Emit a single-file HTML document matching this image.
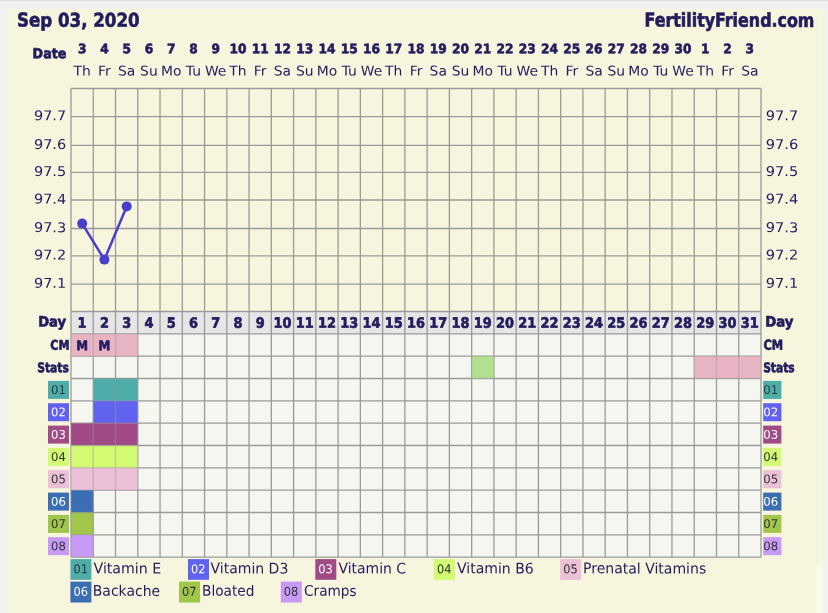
<!DOCTYPE html><html><head><meta charset="utf-8"><title>FertilityFriend.com chart</title>
<style>html,body{margin:0;padding:0;background:#f1f1f1;overflow:hidden}svg{display:block}text{font-family:"DejaVu Sans","Liberation Sans",sans-serif;fill:#211c5c;text-rendering:geometricPrecision}.b{font-family:"DejaVu Sans Condensed","DejaVu Sans","Liberation Sans",sans-serif;font-weight:bold;stroke:#211c5c;stroke-width:0.6px}</style></head><body>
<svg width="828" height="613" viewBox="0 0 828 613">
<rect x="0" y="0" width="828" height="613" fill="#f1f1f1"/>
<rect x="0" y="0" width="828" height="1" fill="#dedede"/>
<rect x="8.5" y="9" width="814.9" height="604" fill="#f7f5de"/>
<rect x="816" y="565" width="6.1" height="60" rx="3" fill="#fbf9ea"/>
<text class="b" transform="translate(17.00 26.60) matrix(1 .002 0 1.000 0 0)" font-size="19.2" textLength="122.6" lengthAdjust="spacingAndGlyphs">Sep 03, 2020</text>
<text class="b" transform="translate(644.50 26.60) matrix(1 .002 0 1.000 0 0)" font-size="19.2" textLength="169.9" lengthAdjust="spacingAndGlyphs">FertilityFriend.com</text>
<text class="b" transform="translate(32.60 58.20) matrix(1 .002 0 1.000 0 0)" font-size="13.9" textLength="33.8" lengthAdjust="spacingAndGlyphs">Date</text>
<text class="b" transform="translate(77.88 53.25) matrix(1 .002 0 0.950 0 0)" font-size="13.8" textLength="8.5" lengthAdjust="spacingAndGlyphs">3</text>
<text transform="translate(82.13 75.50) matrix(1 .002 0 0.970 0 0)" font-size="13.9" text-anchor="middle">Th</text>
<text class="b" transform="translate(100.14 53.25) matrix(1 .002 0 0.950 0 0)" font-size="13.8" textLength="8.5" lengthAdjust="spacingAndGlyphs">4</text>
<text transform="translate(104.39 75.50) matrix(1 .002 0 0.970 0 0)" font-size="13.9" text-anchor="middle">Fr</text>
<text class="b" transform="translate(122.40 53.25) matrix(1 .002 0 0.950 0 0)" font-size="13.8" textLength="8.5" lengthAdjust="spacingAndGlyphs">5</text>
<text transform="translate(126.65 75.50) matrix(1 .002 0 0.970 0 0)" font-size="13.9" text-anchor="middle">Sa</text>
<text class="b" transform="translate(144.65 53.25) matrix(1 .002 0 0.950 0 0)" font-size="13.8" textLength="8.5" lengthAdjust="spacingAndGlyphs">6</text>
<text transform="translate(148.90 75.50) matrix(1 .002 0 0.970 0 0)" font-size="13.9" text-anchor="middle">Su</text>
<text class="b" transform="translate(166.91 53.25) matrix(1 .002 0 0.950 0 0)" font-size="13.8" textLength="8.5" lengthAdjust="spacingAndGlyphs">7</text>
<text transform="translate(171.16 75.50) matrix(1 .002 0 0.970 0 0)" font-size="13.9" text-anchor="middle">Mo</text>
<text class="b" transform="translate(189.17 53.25) matrix(1 .002 0 0.950 0 0)" font-size="13.8" textLength="8.5" lengthAdjust="spacingAndGlyphs">8</text>
<text transform="translate(193.42 75.50) matrix(1 .002 0 0.970 0 0)" font-size="13.9" text-anchor="middle">Tu</text>
<text class="b" transform="translate(211.43 53.25) matrix(1 .002 0 0.950 0 0)" font-size="13.8" textLength="8.5" lengthAdjust="spacingAndGlyphs">9</text>
<text transform="translate(215.68 75.50) matrix(1 .002 0 0.970 0 0)" font-size="13.9" text-anchor="middle">We</text>
<text class="b" transform="translate(229.44 53.25) matrix(1 .002 0 0.950 0 0)" font-size="13.8" textLength="17.0" lengthAdjust="spacingAndGlyphs">10</text>
<text transform="translate(237.94 75.50) matrix(1 .002 0 0.970 0 0)" font-size="13.9" text-anchor="middle">Th</text>
<text class="b" transform="translate(251.69 53.25) matrix(1 .002 0 0.950 0 0)" font-size="13.8" textLength="17.0" lengthAdjust="spacingAndGlyphs">11</text>
<text transform="translate(260.19 75.50) matrix(1 .002 0 0.970 0 0)" font-size="13.9" text-anchor="middle">Fr</text>
<text class="b" transform="translate(273.95 53.25) matrix(1 .002 0 0.950 0 0)" font-size="13.8" textLength="17.0" lengthAdjust="spacingAndGlyphs">12</text>
<text transform="translate(282.45 75.50) matrix(1 .002 0 0.970 0 0)" font-size="13.9" text-anchor="middle">Sa</text>
<text class="b" transform="translate(296.21 53.25) matrix(1 .002 0 0.950 0 0)" font-size="13.8" textLength="17.0" lengthAdjust="spacingAndGlyphs">13</text>
<text transform="translate(304.71 75.50) matrix(1 .002 0 0.970 0 0)" font-size="13.9" text-anchor="middle">Su</text>
<text class="b" transform="translate(318.47 53.25) matrix(1 .002 0 0.950 0 0)" font-size="13.8" textLength="17.0" lengthAdjust="spacingAndGlyphs">14</text>
<text transform="translate(326.97 75.50) matrix(1 .002 0 0.970 0 0)" font-size="13.9" text-anchor="middle">Mo</text>
<text class="b" transform="translate(340.73 53.25) matrix(1 .002 0 0.950 0 0)" font-size="13.8" textLength="17.0" lengthAdjust="spacingAndGlyphs">15</text>
<text transform="translate(349.23 75.50) matrix(1 .002 0 0.970 0 0)" font-size="13.9" text-anchor="middle">Tu</text>
<text class="b" transform="translate(362.98 53.25) matrix(1 .002 0 0.950 0 0)" font-size="13.8" textLength="17.0" lengthAdjust="spacingAndGlyphs">16</text>
<text transform="translate(371.48 75.50) matrix(1 .002 0 0.970 0 0)" font-size="13.9" text-anchor="middle">We</text>
<text class="b" transform="translate(385.24 53.25) matrix(1 .002 0 0.950 0 0)" font-size="13.8" textLength="17.0" lengthAdjust="spacingAndGlyphs">17</text>
<text transform="translate(393.74 75.50) matrix(1 .002 0 0.970 0 0)" font-size="13.9" text-anchor="middle">Th</text>
<text class="b" transform="translate(407.50 53.25) matrix(1 .002 0 0.950 0 0)" font-size="13.8" textLength="17.0" lengthAdjust="spacingAndGlyphs">18</text>
<text transform="translate(416.00 75.50) matrix(1 .002 0 0.970 0 0)" font-size="13.9" text-anchor="middle">Fr</text>
<text class="b" transform="translate(429.76 53.25) matrix(1 .002 0 0.950 0 0)" font-size="13.8" textLength="17.0" lengthAdjust="spacingAndGlyphs">19</text>
<text transform="translate(438.26 75.50) matrix(1 .002 0 0.970 0 0)" font-size="13.9" text-anchor="middle">Sa</text>
<text class="b" transform="translate(452.02 53.25) matrix(1 .002 0 0.950 0 0)" font-size="13.8" textLength="17.0" lengthAdjust="spacingAndGlyphs">20</text>
<text transform="translate(460.52 75.50) matrix(1 .002 0 0.970 0 0)" font-size="13.9" text-anchor="middle">Su</text>
<text class="b" transform="translate(474.27 53.25) matrix(1 .002 0 0.950 0 0)" font-size="13.8" textLength="17.0" lengthAdjust="spacingAndGlyphs">21</text>
<text transform="translate(482.77 75.50) matrix(1 .002 0 0.970 0 0)" font-size="13.9" text-anchor="middle">Mo</text>
<text class="b" transform="translate(496.53 53.25) matrix(1 .002 0 0.950 0 0)" font-size="13.8" textLength="17.0" lengthAdjust="spacingAndGlyphs">22</text>
<text transform="translate(505.03 75.50) matrix(1 .002 0 0.970 0 0)" font-size="13.9" text-anchor="middle">Tu</text>
<text class="b" transform="translate(518.79 53.25) matrix(1 .002 0 0.950 0 0)" font-size="13.8" textLength="17.0" lengthAdjust="spacingAndGlyphs">23</text>
<text transform="translate(527.29 75.50) matrix(1 .002 0 0.970 0 0)" font-size="13.9" text-anchor="middle">We</text>
<text class="b" transform="translate(541.05 53.25) matrix(1 .002 0 0.950 0 0)" font-size="13.8" textLength="17.0" lengthAdjust="spacingAndGlyphs">24</text>
<text transform="translate(549.55 75.50) matrix(1 .002 0 0.970 0 0)" font-size="13.9" text-anchor="middle">Th</text>
<text class="b" transform="translate(563.31 53.25) matrix(1 .002 0 0.950 0 0)" font-size="13.8" textLength="17.0" lengthAdjust="spacingAndGlyphs">25</text>
<text transform="translate(571.81 75.50) matrix(1 .002 0 0.970 0 0)" font-size="13.9" text-anchor="middle">Fr</text>
<text class="b" transform="translate(585.56 53.25) matrix(1 .002 0 0.950 0 0)" font-size="13.8" textLength="17.0" lengthAdjust="spacingAndGlyphs">26</text>
<text transform="translate(594.06 75.50) matrix(1 .002 0 0.970 0 0)" font-size="13.9" text-anchor="middle">Sa</text>
<text class="b" transform="translate(607.82 53.25) matrix(1 .002 0 0.950 0 0)" font-size="13.8" textLength="17.0" lengthAdjust="spacingAndGlyphs">27</text>
<text transform="translate(616.32 75.50) matrix(1 .002 0 0.970 0 0)" font-size="13.9" text-anchor="middle">Su</text>
<text class="b" transform="translate(630.08 53.25) matrix(1 .002 0 0.950 0 0)" font-size="13.8" textLength="17.0" lengthAdjust="spacingAndGlyphs">28</text>
<text transform="translate(638.58 75.50) matrix(1 .002 0 0.970 0 0)" font-size="13.9" text-anchor="middle">Mo</text>
<text class="b" transform="translate(652.34 53.25) matrix(1 .002 0 0.950 0 0)" font-size="13.8" textLength="17.0" lengthAdjust="spacingAndGlyphs">29</text>
<text transform="translate(660.84 75.50) matrix(1 .002 0 0.970 0 0)" font-size="13.9" text-anchor="middle">Tu</text>
<text class="b" transform="translate(674.60 53.25) matrix(1 .002 0 0.950 0 0)" font-size="13.8" textLength="17.0" lengthAdjust="spacingAndGlyphs">30</text>
<text transform="translate(683.10 75.50) matrix(1 .002 0 0.970 0 0)" font-size="13.9" text-anchor="middle">We</text>
<text class="b" transform="translate(701.10 53.25) matrix(1 .002 0 0.950 0 0)" font-size="13.8" textLength="8.5" lengthAdjust="spacingAndGlyphs">1</text>
<text transform="translate(705.35 75.50) matrix(1 .002 0 0.970 0 0)" font-size="13.9" text-anchor="middle">Th</text>
<text class="b" transform="translate(723.36 53.25) matrix(1 .002 0 0.950 0 0)" font-size="13.8" textLength="8.5" lengthAdjust="spacingAndGlyphs">2</text>
<text transform="translate(727.61 75.50) matrix(1 .002 0 0.970 0 0)" font-size="13.9" text-anchor="middle">Fr</text>
<text class="b" transform="translate(745.62 53.25) matrix(1 .002 0 0.950 0 0)" font-size="13.8" textLength="8.5" lengthAdjust="spacingAndGlyphs">3</text>
<text transform="translate(749.87 75.50) matrix(1 .002 0 0.970 0 0)" font-size="13.9" text-anchor="middle">Sa</text>
<text transform="translate(33.90 120.30) matrix(1 .002 0 0.950 0 0)" font-size="14.2" textLength="32.3" lengthAdjust="spacingAndGlyphs">97.7</text>
<text transform="translate(765.70 120.30) matrix(1 .002 0 0.950 0 0)" font-size="14.2" textLength="32.5" lengthAdjust="spacingAndGlyphs">97.7</text>
<text transform="translate(33.90 149.00) matrix(1 .002 0 0.950 0 0)" font-size="14.2" textLength="32.3" lengthAdjust="spacingAndGlyphs">97.6</text>
<text transform="translate(765.70 149.00) matrix(1 .002 0 0.950 0 0)" font-size="14.2" textLength="32.5" lengthAdjust="spacingAndGlyphs">97.6</text>
<text transform="translate(33.90 175.90) matrix(1 .002 0 0.950 0 0)" font-size="14.2" textLength="32.3" lengthAdjust="spacingAndGlyphs">97.5</text>
<text transform="translate(765.70 175.90) matrix(1 .002 0 0.950 0 0)" font-size="14.2" textLength="32.5" lengthAdjust="spacingAndGlyphs">97.5</text>
<text transform="translate(33.90 203.60) matrix(1 .002 0 0.950 0 0)" font-size="14.2" textLength="32.3" lengthAdjust="spacingAndGlyphs">97.4</text>
<text transform="translate(765.70 203.60) matrix(1 .002 0 0.950 0 0)" font-size="14.2" textLength="32.5" lengthAdjust="spacingAndGlyphs">97.4</text>
<text transform="translate(33.90 232.10) matrix(1 .002 0 0.950 0 0)" font-size="14.2" textLength="32.3" lengthAdjust="spacingAndGlyphs">97.3</text>
<text transform="translate(765.70 232.10) matrix(1 .002 0 0.950 0 0)" font-size="14.2" textLength="32.5" lengthAdjust="spacingAndGlyphs">97.3</text>
<text transform="translate(33.90 259.40) matrix(1 .002 0 0.950 0 0)" font-size="14.2" textLength="32.3" lengthAdjust="spacingAndGlyphs">97.2</text>
<text transform="translate(765.70 259.40) matrix(1 .002 0 0.950 0 0)" font-size="14.2" textLength="32.5" lengthAdjust="spacingAndGlyphs">97.2</text>
<text transform="translate(33.90 287.80) matrix(1 .002 0 0.950 0 0)" font-size="14.2" textLength="32.3" lengthAdjust="spacingAndGlyphs">97.1</text>
<text transform="translate(765.70 287.80) matrix(1 .002 0 0.950 0 0)" font-size="14.2" textLength="32.5" lengthAdjust="spacingAndGlyphs">97.1</text>
<rect x="71.0" y="311.5" width="690.0" height="22.3" fill="#e6e6e6"/>
<rect x="71.0" y="333.8" width="690.0" height="223.3" fill="#f6f6f0"/>
<rect x="71.00" y="333.83" width="66.77" height="22.33" fill="#e8b4c4"/>
<rect x="471.65" y="356.16" width="22.26" height="22.33" fill="#b0e090"/>
<rect x="694.23" y="356.16" width="66.77" height="22.33" fill="#e8b4c4"/>
<rect x="93.26" y="378.50" width="44.52" height="22.33" fill="#4eada8"/>
<rect x="93.26" y="400.83" width="44.52" height="22.33" fill="#6262f0"/>
<rect x="71.00" y="423.16" width="66.77" height="22.33" fill="#a04a86"/>
<rect x="71.00" y="445.49" width="66.77" height="22.33" fill="#d2fa72"/>
<rect x="71.00" y="467.82" width="66.77" height="22.33" fill="#ecc0d8"/>
<rect x="71.00" y="490.15" width="22.26" height="22.33" fill="#3c6eb6"/>
<rect x="71.00" y="512.49" width="22.26" height="22.33" fill="#a0c64c"/>
<rect x="71.00" y="534.82" width="22.26" height="22.33" fill="#c89af8"/>
<path d="M71.00 88.5V557.15M93.26 88.5V557.15M115.52 88.5V557.15M137.77 88.5V557.15M160.03 88.5V557.15M182.29 88.5V557.15M204.55 88.5V557.15M226.81 88.5V557.15M249.06 88.5V557.15M271.32 88.5V557.15M293.58 88.5V557.15M315.84 88.5V557.15M338.10 88.5V557.15M360.35 88.5V557.15M382.61 88.5V557.15M404.87 88.5V557.15M427.13 88.5V557.15M449.39 88.5V557.15M471.65 88.5V557.15M493.90 88.5V557.15M516.16 88.5V557.15M538.42 88.5V557.15M560.68 88.5V557.15M582.94 88.5V557.15M605.19 88.5V557.15M627.45 88.5V557.15M649.71 88.5V557.15M671.97 88.5V557.15M694.23 88.5V557.15M716.48 88.5V557.15M738.74 88.5V557.15M761.00 88.5V557.15M71.00 88.50H761.00M71.00 116.70H761.00M71.00 145.40H761.00M71.00 172.30H761.00M71.00 200.00H761.00M71.00 228.50H761.00M71.00 255.80H761.00M71.00 284.20H761.00M71.00 311.50H761.00M71.00 333.83H761.00M71.00 356.16H761.00M71.00 378.50H761.00M71.00 400.83H761.00M71.00 423.16H761.00M71.00 445.49H761.00M71.00 467.82H761.00M71.00 490.15H761.00M71.00 512.49H761.00M71.00 534.82H761.00M71.00 557.15H761.00" stroke="#9a9a9a" stroke-width="1.3" fill="none"/>
<g opacity="0.55">
<rect x="71.00" y="333.83" width="66.77" height="22.33" fill="#e8b4c4"/>
<rect x="471.65" y="356.16" width="22.26" height="22.33" fill="#b0e090"/>
<rect x="694.23" y="356.16" width="66.77" height="22.33" fill="#e8b4c4"/>
<rect x="93.26" y="378.50" width="44.52" height="22.33" fill="#4eada8"/>
<rect x="93.26" y="400.83" width="44.52" height="22.33" fill="#6262f0"/>
<rect x="71.00" y="423.16" width="66.77" height="22.33" fill="#a04a86"/>
<rect x="71.00" y="445.49" width="66.77" height="22.33" fill="#d2fa72"/>
<rect x="71.00" y="467.82" width="66.77" height="22.33" fill="#ecc0d8"/>
<rect x="71.00" y="490.15" width="22.26" height="22.33" fill="#3c6eb6"/>
<rect x="71.00" y="512.49" width="22.26" height="22.33" fill="#a0c64c"/>
<rect x="71.00" y="534.82" width="22.26" height="22.33" fill="#c89af8"/>
</g>
<polyline points="82.2,223.6 104.4,259.6 126.7,206.4" fill="none" stroke="#483ec8" stroke-width="2.5"/>
<circle cx="82.2" cy="223.6" r="5" fill="#483ec8"/>
<circle cx="104.4" cy="259.6" r="5" fill="#483ec8"/>
<circle cx="126.7" cy="206.4" r="5" fill="#483ec8"/>
<text class="b" transform="translate(38.20 326.50) matrix(1 .002 0 1.020 0 0)" font-size="14.0" textLength="27.9" lengthAdjust="spacingAndGlyphs">Day</text>
<text class="b" transform="translate(50.30 349.80) matrix(1 .002 0 0.980 0 0)" font-size="13.7" textLength="19.2" lengthAdjust="spacingAndGlyphs">CM</text>
<text class="b" transform="translate(37.20 372.20) matrix(1 .002 0 0.980 0 0)" font-size="13.7" textLength="31.7" lengthAdjust="spacingAndGlyphs">Stats</text>
<text class="b" transform="translate(765.30 326.40) matrix(1 .002 0 1.020 0 0)" font-size="14.0" textLength="28.2" lengthAdjust="spacingAndGlyphs">Day</text>
<text class="b" transform="translate(763.50 349.85) matrix(1 .002 0 1.000 0 0)" font-size="13.7" textLength="19.7" lengthAdjust="spacingAndGlyphs">CM</text>
<text class="b" transform="translate(763.15 372.20) matrix(1 .002 0 0.980 0 0)" font-size="13.7" textLength="31.5" lengthAdjust="spacingAndGlyphs">Stats</text>
<text class="b" transform="translate(77.62 327.70) matrix(1 .002 0 1.020 0 0)" font-size="14.0" textLength="9.0" lengthAdjust="spacingAndGlyphs">1</text>
<text class="b" transform="translate(99.88 327.70) matrix(1 .002 0 1.020 0 0)" font-size="14.0" textLength="9.0" lengthAdjust="spacingAndGlyphs">2</text>
<text class="b" transform="translate(122.14 327.70) matrix(1 .002 0 1.020 0 0)" font-size="14.0" textLength="9.0" lengthAdjust="spacingAndGlyphs">3</text>
<text class="b" transform="translate(144.39 327.70) matrix(1 .002 0 1.020 0 0)" font-size="14.0" textLength="9.0" lengthAdjust="spacingAndGlyphs">4</text>
<text class="b" transform="translate(166.65 327.70) matrix(1 .002 0 1.020 0 0)" font-size="14.0" textLength="9.0" lengthAdjust="spacingAndGlyphs">5</text>
<text class="b" transform="translate(188.91 327.70) matrix(1 .002 0 1.020 0 0)" font-size="14.0" textLength="9.0" lengthAdjust="spacingAndGlyphs">6</text>
<text class="b" transform="translate(211.17 327.70) matrix(1 .002 0 1.020 0 0)" font-size="14.0" textLength="9.0" lengthAdjust="spacingAndGlyphs">7</text>
<text class="b" transform="translate(233.43 327.70) matrix(1 .002 0 1.020 0 0)" font-size="14.0" textLength="9.0" lengthAdjust="spacingAndGlyphs">8</text>
<text class="b" transform="translate(255.68 327.70) matrix(1 .002 0 1.020 0 0)" font-size="14.0" textLength="9.0" lengthAdjust="spacingAndGlyphs">9</text>
<text class="b" transform="translate(273.43 327.70) matrix(1 .002 0 1.020 0 0)" font-size="14.0" textLength="18.0" lengthAdjust="spacingAndGlyphs">10</text>
<text class="b" transform="translate(295.69 327.70) matrix(1 .002 0 1.020 0 0)" font-size="14.0" textLength="18.0" lengthAdjust="spacingAndGlyphs">11</text>
<text class="b" transform="translate(317.95 327.70) matrix(1 .002 0 1.020 0 0)" font-size="14.0" textLength="18.0" lengthAdjust="spacingAndGlyphs">12</text>
<text class="b" transform="translate(340.21 327.70) matrix(1 .002 0 1.020 0 0)" font-size="14.0" textLength="18.0" lengthAdjust="spacingAndGlyphs">13</text>
<text class="b" transform="translate(362.46 327.70) matrix(1 .002 0 1.020 0 0)" font-size="14.0" textLength="18.0" lengthAdjust="spacingAndGlyphs">14</text>
<text class="b" transform="translate(384.72 327.70) matrix(1 .002 0 1.020 0 0)" font-size="14.0" textLength="18.0" lengthAdjust="spacingAndGlyphs">15</text>
<text class="b" transform="translate(406.98 327.70) matrix(1 .002 0 1.020 0 0)" font-size="14.0" textLength="18.0" lengthAdjust="spacingAndGlyphs">16</text>
<text class="b" transform="translate(429.24 327.70) matrix(1 .002 0 1.020 0 0)" font-size="14.0" textLength="18.0" lengthAdjust="spacingAndGlyphs">17</text>
<text class="b" transform="translate(451.50 327.70) matrix(1 .002 0 1.020 0 0)" font-size="14.0" textLength="18.0" lengthAdjust="spacingAndGlyphs">18</text>
<text class="b" transform="translate(473.75 327.70) matrix(1 .002 0 1.020 0 0)" font-size="14.0" textLength="18.0" lengthAdjust="spacingAndGlyphs">19</text>
<text class="b" transform="translate(496.01 327.70) matrix(1 .002 0 1.020 0 0)" font-size="14.0" textLength="18.0" lengthAdjust="spacingAndGlyphs">20</text>
<text class="b" transform="translate(518.27 327.70) matrix(1 .002 0 1.020 0 0)" font-size="14.0" textLength="18.0" lengthAdjust="spacingAndGlyphs">21</text>
<text class="b" transform="translate(540.53 327.70) matrix(1 .002 0 1.020 0 0)" font-size="14.0" textLength="18.0" lengthAdjust="spacingAndGlyphs">22</text>
<text class="b" transform="translate(562.79 327.70) matrix(1 .002 0 1.020 0 0)" font-size="14.0" textLength="18.0" lengthAdjust="spacingAndGlyphs">23</text>
<text class="b" transform="translate(585.04 327.70) matrix(1 .002 0 1.020 0 0)" font-size="14.0" textLength="18.0" lengthAdjust="spacingAndGlyphs">24</text>
<text class="b" transform="translate(607.30 327.70) matrix(1 .002 0 1.020 0 0)" font-size="14.0" textLength="18.0" lengthAdjust="spacingAndGlyphs">25</text>
<text class="b" transform="translate(629.56 327.70) matrix(1 .002 0 1.020 0 0)" font-size="14.0" textLength="18.0" lengthAdjust="spacingAndGlyphs">26</text>
<text class="b" transform="translate(651.82 327.70) matrix(1 .002 0 1.020 0 0)" font-size="14.0" textLength="18.0" lengthAdjust="spacingAndGlyphs">27</text>
<text class="b" transform="translate(674.08 327.70) matrix(1 .002 0 1.020 0 0)" font-size="14.0" textLength="18.0" lengthAdjust="spacingAndGlyphs">28</text>
<text class="b" transform="translate(696.33 327.70) matrix(1 .002 0 1.020 0 0)" font-size="14.0" textLength="18.0" lengthAdjust="spacingAndGlyphs">29</text>
<text class="b" transform="translate(718.59 327.70) matrix(1 .002 0 1.020 0 0)" font-size="14.0" textLength="18.0" lengthAdjust="spacingAndGlyphs">30</text>
<text class="b" transform="translate(740.85 327.70) matrix(1 .002 0 1.020 0 0)" font-size="14.0" textLength="18.0" lengthAdjust="spacingAndGlyphs">31</text>
<text class="b" transform="translate(76.33 350.20) matrix(1 .002 0 0.980 0 0)" font-size="13.7" textLength="11.8" lengthAdjust="spacingAndGlyphs">M</text>
<text class="b" transform="translate(98.59 350.20) matrix(1 .002 0 0.980 0 0)" font-size="13.7" textLength="11.8" lengthAdjust="spacingAndGlyphs">M</text>
<rect x="48" y="380.9" width="21" height="18" fill="#4eada8"/>
<text transform="translate(51.00 394.00) matrix(1 .002 0 0.980 0 0)" font-size="12.2" textLength="14.8" lengthAdjust="spacingAndGlyphs" style="fill:#2c3a3a">01</text>
<rect x="763.2" y="380.9" width="18.2" height="18" fill="#4eada8"/>
<text transform="translate(763.30 394.00) matrix(1 .002 0 0.980 0 0)" font-size="12.2" textLength="14.9" lengthAdjust="spacingAndGlyphs" style="fill:#2c3a3a">01</text>
<rect x="48" y="403.2" width="21" height="18" fill="#6262f0"/>
<text transform="translate(51.00 416.33) matrix(1 .002 0 0.980 0 0)" font-size="12.2" textLength="14.8" lengthAdjust="spacingAndGlyphs" style="fill:#ffffff">02</text>
<rect x="763.2" y="403.2" width="18.2" height="18" fill="#6262f0"/>
<text transform="translate(763.30 416.33) matrix(1 .002 0 0.980 0 0)" font-size="12.2" textLength="14.9" lengthAdjust="spacingAndGlyphs" style="fill:#ffffff">02</text>
<rect x="48" y="425.6" width="21" height="18" fill="#a04a86"/>
<text transform="translate(51.00 438.66) matrix(1 .002 0 0.980 0 0)" font-size="12.2" textLength="14.8" lengthAdjust="spacingAndGlyphs" style="fill:#ffffff">03</text>
<rect x="763.2" y="425.6" width="18.2" height="18" fill="#a04a86"/>
<text transform="translate(763.30 438.66) matrix(1 .002 0 0.980 0 0)" font-size="12.2" textLength="14.9" lengthAdjust="spacingAndGlyphs" style="fill:#ffffff">03</text>
<rect x="48" y="447.9" width="21" height="18" fill="#d2fa72"/>
<text transform="translate(51.00 460.99) matrix(1 .002 0 0.980 0 0)" font-size="12.2" textLength="14.8" lengthAdjust="spacingAndGlyphs" style="fill:#333333">04</text>
<rect x="763.2" y="447.9" width="18.2" height="18" fill="#d2fa72"/>
<text transform="translate(763.30 460.99) matrix(1 .002 0 0.980 0 0)" font-size="12.2" textLength="14.9" lengthAdjust="spacingAndGlyphs" style="fill:#333333">04</text>
<rect x="48" y="470.2" width="21" height="18" fill="#ecc0d8"/>
<text transform="translate(51.00 483.32) matrix(1 .002 0 0.980 0 0)" font-size="12.2" textLength="14.8" lengthAdjust="spacingAndGlyphs" style="fill:#333333">05</text>
<rect x="763.2" y="470.2" width="18.2" height="18" fill="#ecc0d8"/>
<text transform="translate(763.30 483.32) matrix(1 .002 0 0.980 0 0)" font-size="12.2" textLength="14.9" lengthAdjust="spacingAndGlyphs" style="fill:#333333">05</text>
<rect x="48" y="492.6" width="21" height="18" fill="#3c6eb6"/>
<text transform="translate(51.00 505.65) matrix(1 .002 0 0.980 0 0)" font-size="12.2" textLength="14.8" lengthAdjust="spacingAndGlyphs" style="fill:#ffffff">06</text>
<rect x="763.2" y="492.6" width="18.2" height="18" fill="#3c6eb6"/>
<text transform="translate(763.30 505.65) matrix(1 .002 0 0.980 0 0)" font-size="12.2" textLength="14.9" lengthAdjust="spacingAndGlyphs" style="fill:#ffffff">06</text>
<rect x="48" y="514.9" width="21" height="18" fill="#a0c64c"/>
<text transform="translate(51.00 527.99) matrix(1 .002 0 0.980 0 0)" font-size="12.2" textLength="14.8" lengthAdjust="spacingAndGlyphs" style="fill:#333333">07</text>
<rect x="763.2" y="514.9" width="18.2" height="18" fill="#a0c64c"/>
<text transform="translate(763.30 527.99) matrix(1 .002 0 0.980 0 0)" font-size="12.2" textLength="14.9" lengthAdjust="spacingAndGlyphs" style="fill:#333333">07</text>
<rect x="48" y="537.2" width="21" height="18" fill="#c89af8"/>
<text transform="translate(51.00 550.32) matrix(1 .002 0 0.980 0 0)" font-size="12.2" textLength="14.8" lengthAdjust="spacingAndGlyphs" style="fill:#333333">08</text>
<rect x="763.2" y="537.2" width="18.2" height="18" fill="#c89af8"/>
<text transform="translate(763.30 550.32) matrix(1 .002 0 0.980 0 0)" font-size="12.2" textLength="14.9" lengthAdjust="spacingAndGlyphs" style="fill:#333333">08</text>
<rect x="70.4" y="559.1" width="21" height="20.7" fill="#4eada8"/>
<text transform="translate(73.40 573.30) matrix(1 .002 0 1.000 0 0)" font-size="12.2" textLength="14.5" lengthAdjust="spacingAndGlyphs" style="fill:#2c3a3a">01</text>
<text transform="translate(93.50 573.30) matrix(1 .002 0 1.030 0 0)" font-size="14.2" textLength="67.7" lengthAdjust="spacingAndGlyphs">Vitamin E</text>
<rect x="188.0" y="559.1" width="21" height="20.7" fill="#6262f0"/>
<text transform="translate(191.00 573.30) matrix(1 .002 0 1.000 0 0)" font-size="12.2" textLength="14.5" lengthAdjust="spacingAndGlyphs" style="fill:#ffffff">02</text>
<text transform="translate(210.50 573.30) matrix(1 .002 0 1.030 0 0)" font-size="14.2" textLength="77.8" lengthAdjust="spacingAndGlyphs">Vitamin D3</text>
<rect x="315.3" y="559.1" width="21" height="20.7" fill="#a04a86"/>
<text transform="translate(318.30 573.30) matrix(1 .002 0 1.000 0 0)" font-size="12.2" textLength="14.5" lengthAdjust="spacingAndGlyphs" style="fill:#ffffff">03</text>
<text transform="translate(338.50 573.30) matrix(1 .002 0 1.030 0 0)" font-size="14.2" textLength="67.6" lengthAdjust="spacingAndGlyphs">Vitamin C</text>
<rect x="433.9" y="559.1" width="21" height="20.7" fill="#d2fa72"/>
<text transform="translate(436.90 573.30) matrix(1 .002 0 1.000 0 0)" font-size="12.2" textLength="14.5" lengthAdjust="spacingAndGlyphs" style="fill:#333333">04</text>
<text transform="translate(457.00 573.30) matrix(1 .002 0 1.030 0 0)" font-size="14.2" textLength="76.8" lengthAdjust="spacingAndGlyphs">Vitamin B6</text>
<rect x="560.2" y="559.1" width="21" height="20.7" fill="#ecc0d8"/>
<text transform="translate(563.20 573.30) matrix(1 .002 0 1.000 0 0)" font-size="12.2" textLength="14.5" lengthAdjust="spacingAndGlyphs" style="fill:#333333">05</text>
<text transform="translate(583.00 573.30) matrix(1 .002 0 1.030 0 0)" font-size="14.2" textLength="123.2" lengthAdjust="spacingAndGlyphs">Prenatal Vitamins</text>
<rect x="70.4" y="581.6" width="21" height="20.9" fill="#3c6eb6"/>
<text transform="translate(73.40 595.80) matrix(1 .002 0 1.000 0 0)" font-size="12.2" textLength="14.5" lengthAdjust="spacingAndGlyphs" style="fill:#ffffff">06</text>
<text transform="translate(92.80 595.80) matrix(1 .002 0 1.030 0 0)" font-size="14.2" textLength="67.3" lengthAdjust="spacingAndGlyphs">Backache</text>
<rect x="179.0" y="581.6" width="21" height="20.9" fill="#a0c64c"/>
<text transform="translate(182.00 595.80) matrix(1 .002 0 1.000 0 0)" font-size="12.2" textLength="14.5" lengthAdjust="spacingAndGlyphs" style="fill:#333333">07</text>
<text transform="translate(202.00 595.80) matrix(1 .002 0 1.030 0 0)" font-size="14.2" textLength="52.5" lengthAdjust="spacingAndGlyphs">Bloated</text>
<rect x="280.8" y="581.6" width="21" height="20.9" fill="#c89af8"/>
<text transform="translate(283.80 595.80) matrix(1 .002 0 1.000 0 0)" font-size="12.2" textLength="14.5" lengthAdjust="spacingAndGlyphs" style="fill:#333333">08</text>
<text transform="translate(304.00 595.80) matrix(1 .002 0 1.030 0 0)" font-size="14.2" textLength="52.6" lengthAdjust="spacingAndGlyphs">Cramps</text>
</svg></body></html>
